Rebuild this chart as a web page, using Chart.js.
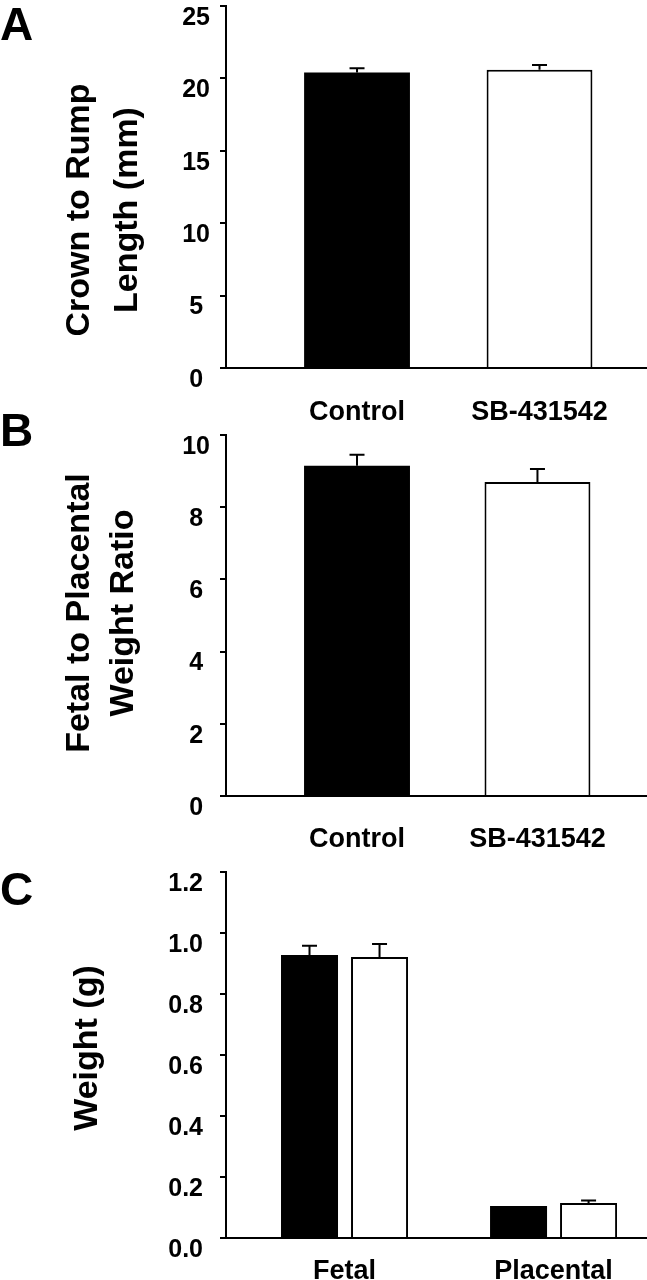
<!DOCTYPE html>
<html>
<head>
<meta charset="utf-8">
<script src="https://cdn.jsdelivr.net/npm/chart.js@4.4.1/dist/chart.umd.min.js"></script>
<style>
    body { margin: 0; background: #fff; }
    #figura { position: relative; width: 647px; height: 1280px; overflow: hidden; }
    .panel { position: absolute; left: 0; }
    .letra {
        position: absolute; left: 0;
        font: bold 46px "Liberation Sans", Arial, sans-serif;
        line-height: 1; color: #000;
    }
</style>
</head>
<body>
<div id="figura">
    <canvas id="chart-a" class="panel" width="647" height="420" style="top:0px"></canvas>
    <canvas id="chart-b" class="panel" width="647" height="430" style="top:420px"></canvas>
    <canvas id="chart-c" class="panel" width="647" height="430" style="top:850px"></canvas>
    <div class="letra" style="top:1px">A</div>
    <div class="letra" style="top:407px">B</div>
    <div class="letra" style="top:866px">C</div>
</div>
<script>
// panel A
var groups_ab = ['Control', 'SB-431542'];
var crown_rump = [20.4, 20.6];
var crown_rump_err = [0.3, 0.32];

// panel B
var fp_ratio = [9.15, 8.7];
var fp_ratio_err = [0.3, 0.36];

// panel C
var groups_c = ['Fetal', 'Placental'];
var weight_control = [0.928, 0.105];
var weight_control_err = [0.03, 0];
var weight_sb = [0.921, 0.115];
var weight_sb_err = [0.043, 0.008];

var FONT = '"Liberation Sans", Arial, sans-serif';

function to_points(values) {
    return values.map(function (v, i) {
        return {x: i + 1, y: v};
    });
}

// error bars drawn from the bar value up through the y scale
var error_bars = {
    id: 'error_bars',
    afterDatasetsDraw: function (chart) {
        var ctx = chart.ctx;
        var y_scale = chart.scales.y;
        ctx.save();
        ctx.strokeStyle = '#000';
        ctx.lineWidth = 2;
        chart.data.datasets.forEach(function (ds, i) {
            if (!ds.errors) return;
            chart.getDatasetMeta(i).data.forEach(function (bar, j) {
                var err = ds.errors[j];
                if (!err) return;
                var v = ds.data[j].y;
                var y0 = y_scale.getPixelForValue(v);
                var y1 = y_scale.getPixelForValue(v + err);
                ctx.beginPath();
                ctx.moveTo(bar.x, y0);
                ctx.lineTo(bar.x, y1);
                ctx.moveTo(bar.x - 7.5, y1);
                ctx.lineTo(bar.x + 7.5, y1);
                ctx.stroke();
            });
        });
        ctx.restore();
    }
};

// rotated y title, several lines
var side_title = {
    id: 'side_title',
    afterDraw: function (chart, args, opts) {
        var ctx = chart.ctx;
        ctx.save();
        ctx.font = 'bold 34px ' + FONT;
        ctx.fillStyle = '#000';
        ctx.textAlign = 'center';
        ctx.textBaseline = 'middle';
        opts.lines.forEach(function (line, i) {
            ctx.save();
            ctx.translate(opts.x[i], opts.y);
            ctx.rotate(-Math.PI / 2);
            ctx.fillText(line, 0, 0);
            ctx.restore();
        });
        ctx.restore();
    }
};

function make_chart(id, conf) {
    return new Chart(document.getElementById(id), {
        type: 'bar',
        data: {datasets: conf.datasets},
        plugins: [error_bars, side_title],
        options: {
            responsive: false,
            animation: false,
            layout: {padding: {top: conf.top, left: 0, right: 0, bottom: 0}},
            datasets: {
                bar: {
                    categoryPercentage: conf.cat_pct,
                    barPercentage: conf.bar_pct
                }
            },
            plugins: {
                legend: {display: false},
                tooltip: {enabled: false},
                side_title: conf.title
            },
            scales: {
                x: {
                    type: 'linear',
                    offset: false,
                    min: conf.x_min,
                    max: conf.x_max,
                    z: 1,
                    grid: {display: false},
                    border: {display: true, color: '#000', width: 2},
                    afterBuildTicks: function (axis) {
                        axis.ticks = conf.labels.map(function (c, i) {
                            return {value: i + 1};
                        });
                    },
                    afterFit: function (axis) {
                        axis.height = conf.x_height;
                        axis.paddingLeft = 0;
                        axis.paddingRight = 0;
                    },
                    ticks: {
                        padding: conf.x_pad,
                        color: '#000',
                        font: {family: FONT, size: 27, weight: 'bold'},
                        maxRotation: 0,
                        autoSkip: false,
                        callback: function (value) {
                            return conf.labels[value - 1];
                        }
                    }
                },
                y: {
                    min: 0,
                    max: conf.y_max,
                    z: 1,
                    grid: {
                        drawOnChartArea: false,
                        drawTicks: true,
                        tickLength: 6,
                        color: '#000',
                        lineWidth: 2
                    },
                    border: {display: true, color: '#000', width: 2},
                    afterFit: function (axis) {
                        axis.width = 226;
                        axis.paddingTop = 0;
                        axis.paddingBottom = 0;
                    },
                    ticks: {
                        stepSize: conf.step,
                        crossAlign: 'center',
                        padding: conf.y_pad,
                        labelOffset: 12,
                        color: '#000',
                        font: {family: FONT, size: 25, weight: 'bold'},
                        callback: conf.tick_fmt
                    }
                }
            }
        }
    });
}

make_chart('chart-a', {
    labels: groups_ab,
    datasets: [{
        data: to_points(crown_rump),
        errors: crown_rump_err,
        backgroundColor: ['#000', '#fff'],
        borderColor: '#000',
        borderWidth: [0, 2]
    }],
    top: 6, x_height: 52, x_pad: 20,
    x_min: 0.282, x_max: 2.589,
    cat_pct: 1, bar_pct: 0.58,
    y_max: 25, step: 5, y_pad: 10,
    tick_fmt: function (v) { return v; },
    title: {lines: ['Crown to Rump', 'Length (mm)'], x: [80, 128], y: 210}
});

make_chart('chart-b', {
    labels: groups_ab,
    datasets: [{
        data: to_points(fp_ratio),
        errors: fp_ratio_err,
        backgroundColor: ['#000', '#fff'],
        borderColor: '#000',
        borderWidth: [0, 2]
    }],
    top: 15, x_height: 54, x_pad: 19,
    x_min: 0.274, x_max: 2.607,
    cat_pct: 1, bar_pct: 0.587,
    y_max: 10, step: 2, y_pad: 10,
    tick_fmt: function (v) { return v; },
    title: {lines: ['Fetal to Placental', 'Weight Ratio'], x: [80, 124], y: 193}
});

make_chart('chart-c', {
    labels: groups_c,
    datasets: [{
        data: to_points(weight_control),
        errors: weight_control_err,
        backgroundColor: '#000',
        borderWidth: 0
    }, {
        data: to_points(weight_sb),
        errors: weight_sb_err,
        backgroundColor: '#fff',
        borderColor: '#000',
        borderWidth: 2
    }],
    top: 22, x_height: 42, x_pad: 9,
    x_min: 0.433, x_max: 2.447,
    cat_pct: 0.67, bar_pct: 0.814,
    y_max: 1.2, step: 0.2, y_pad: 17,
    tick_fmt: function (v) { return v.toFixed(1); },
    title: {lines: ['Weight (g)'], x: [88], y: 198}
});
</script>
</body>
</html>
